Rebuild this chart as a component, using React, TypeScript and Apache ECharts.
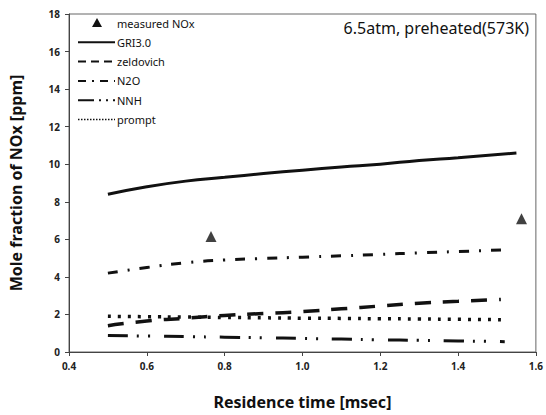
import React, { useEffect, useRef } from "react";
import * as echarts from "echarts";

const xTicks = [0.4, 0.6, 0.8, 1.0, 1.2, 1.4, 1.6];
const measuredX = [0.765, 1.563];
const measuredY = [6.15, 7.1];
const griX = [0.5, 0.6, 0.7, 0.8, 0.9, 1.0, 1.1, 1.2, 1.3, 1.4, 1.55];
const griY = [8.4, 8.8, 9.1, 9.3, 9.5, 9.68, 9.85, 10.0, 10.2, 10.35, 10.6];
const zelX = [0.5, 0.6, 0.7, 0.8, 0.9, 1.0, 1.1, 1.2, 1.3, 1.4, 1.51];
const zelY = [1.4, 1.65, 1.8, 1.95, 2.05, 2.15, 2.3, 2.45, 2.6, 2.7, 2.8];
const n2oX = [0.5, 0.6, 0.7, 0.8, 0.9, 1.0, 1.1, 1.2, 1.3, 1.4, 1.52];
const n2oY = [4.2, 4.5, 4.75, 4.9, 4.98, 5.05, 5.12, 5.2, 5.28, 5.35, 5.44];
const nnhX = [0.5, 0.6, 0.7, 0.8, 0.9, 1.0, 1.1, 1.2, 1.3, 1.4, 1.52];
const nnhY = [0.88, 0.85, 0.82, 0.79, 0.76, 0.72, 0.69, 0.65, 0.62, 0.59, 0.55];
const promptX = [0.5, 0.6, 0.7, 0.8, 0.9, 1.0, 1.1, 1.2, 1.3, 1.4, 1.52];
const promptY = [1.9, 1.88, 1.86, 1.84, 1.82, 1.8, 1.79, 1.77, 1.76, 1.74, 1.72];
const titleText = "6.5atm, preheated(573K)";
const legendNames = ["measured NOx", "GRI3.0", "zeldovich", "N2O", "NNH", "prompt"];

const zip = (xs: number[], ys: number[]) => xs.map((x, i) => [x, ys[i]]);

const dashes: Record<string, any> = {
  "GRI3.0": { type: "solid", width: 3 },
  zeldovich: { type: [16, 12], width: 3.5 },
  N2O: { type: [10, 10, 2, 10], width: 3 },
  NNH: { type: [20, 9, 2, 9, 2, 14], width: 3 },
  prompt: { type: [3, 7], width: 3.5 },
};
const legendDash: Record<string, number[] | null> = {
  "GRI3.0": null,
  zeldovich: [8, 5],
  N2O: [8, 6, 2, 6],
  NNH: [16, 5, 2, 5, 2, 5],
  prompt: [1.5, 1.5],
};

export default function App() {
  const ref = useRef<HTMLDivElement>(null);
  useEffect(() => {
    document.body.style.margin = "0";
    if (!ref.current) return;
    const chart = echarts.init(ref.current, null, { renderer: "svg" });
    const font = "'Noto Sans', sans-serif";
    const lineSeries = (name: string, xs: number[], ys: number[]) => ({
      name,
      type: "line",
      data: zip(xs, ys),
      showSymbol: false,
      symbol: "none",
      smooth: true,
      lineStyle: { color: "#111", width: dashes[name].width, type: dashes[name].type },
    });

    const legendX = 78;
    const legendTop = 23;
    const legendStep = 19.3;
    const legendEls: any[] = [];
    legendNames.forEach((name, i) => {
      const y = legendTop + i * legendStep;
      if (i === 0) {
        legendEls.push({
          type: "polygon",
          shape: { points: [[97, y - 5], [92, y + 4], [102, y + 4]] },
          style: { fill: "#111" },
        });
      } else {
        legendEls.push({
          type: "line",
          shape: { x1: legendX, y1: y, x2: legendX + 37, y2: y },
          style: {
            stroke: "#111",
            lineWidth: name === "prompt" ? 1.5 : 2,
            lineDash: legendDash[name] || undefined,
          },
        });
      }
      legendEls.push({
        type: "text",
        x: 117,
        y,
        style: {
          text: name,
          fontFamily: font,
          fontSize: 11,
          fill: "#111",
          verticalAlign: "middle",
          align: "left",
        },
      });
    });

    chart.setOption({
      animation: false,
      backgroundColor: "#fff",
      title: {
        text: titleText,
        right: 12,
        top: 15,
        textStyle: { fontFamily: font, fontSize: 16, fontWeight: "normal", color: "#111" },
      },
      graphic: legendEls,
      grid: {
        left: 62,
        right: 6,
        top: 14,
        bottom: 59,
        show: true,
        borderColor: "#666",
        borderWidth: 1,
      },
      xAxis: {
        type: "value",
        min: 0.4,
        max: 1.6,
        interval: 0.2,
        name: "Residence time [msec]",
        nameLocation: "middle",
        nameGap: 42,
        nameTextStyle: { fontFamily: font, fontSize: 16, fontWeight: "bold", color: "#111" },
        axisLine: { lineStyle: { color: "#444" } },
        axisTick: { inside: false, length: 4, lineStyle: { color: "#444" } },
        splitLine: { show: false },
        axisLabel: {
          fontFamily: font,
          fontSize: 10,
          fontWeight: "bold",
          color: "#222",
          margin: 9,
          align: "center",
          formatter: (v: number) => (xTicks.some((t) => Math.abs(t - v) < 1e-6) ? v.toFixed(1) : ""),
        },
      },
      yAxis: {
        type: "value",
        min: 0,
        max: 18,
        interval: 2,
        name: "Mole fraction of NOx [ppm]",
        nameLocation: "middle",
        nameGap: 45,
        nameTextStyle: { fontFamily: font, fontSize: 16, fontWeight: "bold", color: "#111" },
        axisLine: { show: true, lineStyle: { color: "#444" } },
        axisTick: { show: true, inside: false, length: 4, lineStyle: { color: "#444" } },
        splitLine: { show: false },
        axisLabel: { fontFamily: font, fontSize: 10, fontWeight: "bold", color: "#222", margin: 9 },
      },
      series: [
        {
          name: "measured NOx",
          type: "scatter",
          symbol: "triangle",
          symbolSize: 11,
          data: zip(measuredX, measuredY),
          itemStyle: { color: "#111" },
        },
        lineSeries("GRI3.0", griX, griY),
        lineSeries("zeldovich", zelX, zelY),
        lineSeries("N2O", n2oX, n2oY),
        lineSeries("NNH", nnhX, nnhY),
        lineSeries("prompt", promptX, promptY),
      ],
    });
    return () => chart.dispose();
  }, []);
  return <div ref={ref} style={{ width: 546, height: 415 }} />;
}
